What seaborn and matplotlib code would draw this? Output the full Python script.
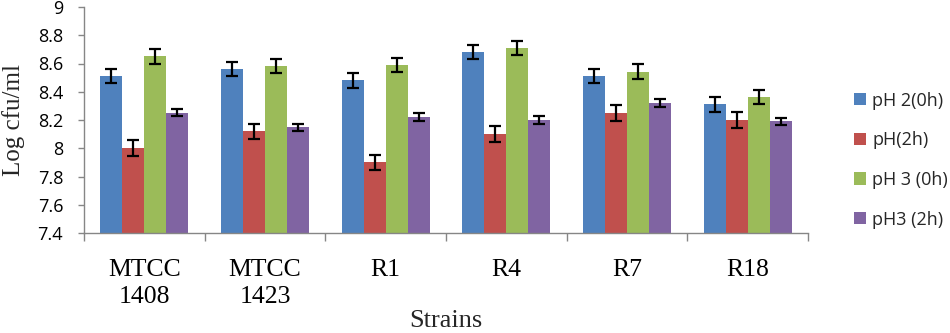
import matplotlib
matplotlib.use("Agg")
import matplotlib.pyplot as plt
import seaborn as sns
import pandas as pd
import numpy as np

strains = ["MTCC\n1408", "MTCC\n1423", "R1", "R4", "R7", "R18"]
series = ["pH 2(0h)", "pH(2h)", "pH 3 (0h)", "pH3 (2h)"]
ph2_0h = [8.51, 8.56, 8.48, 8.68, 8.51, 8.31]
ph2_2h = [8.00, 8.12, 7.90, 8.10, 8.25, 8.20]
ph3_0h = [8.65, 8.58, 8.59, 8.71, 8.54, 8.36]
ph3_2h = [8.25, 8.15, 8.22, 8.20, 8.32, 8.19]
err2_0h = [0.05, 0.05, 0.05, 0.05, 0.05, 0.05]
err2_2h = [0.055, 0.055, 0.055, 0.055, 0.055, 0.055]
err3_0h = [0.05, 0.05, 0.05, 0.05, 0.053, 0.05]
err3_2h = [0.025, 0.025, 0.027, 0.025, 0.027, 0.027]
ytick_labels = ["7.4", "7.6", "7.8", "8", "8.2", "8.4", "8.6", "8.8", "9"]
colors = ["#4F81BD", "#C0504D", "#9BBB59", "#8064A2"]

values = [ph2_0h, ph2_2h, ph3_0h, ph3_2h]
errors = [err2_0h, err2_2h, err3_0h, err3_2h]

rows = []
for s, vals in zip(series, values):
    for st, v in zip(strains, vals):
        rows.append({"Strain": st, "Series": s, "Value": v})
df = pd.DataFrame(rows)

sns.set_theme(style="white")
plt.rcParams["font.family"] = ["Liberation Serif", "DejaVu Serif"]

fig = plt.figure(figsize=(9.5, 3.33), dpi=100)
ax = fig.add_axes([84 / 950, 1 - 233 / 333, (808 - 84) / 950, (233 - 7) / 333])

sns.barplot(data=df, x="Strain", y="Value", hue="Series", order=strains,
            hue_order=series, palette=colors, saturation=1, width=0.73,
            errorbar=None, ax=ax, linewidth=0, legend=True)

for cont, errs in zip(ax.containers, errors):
    xs = [p.get_x() + p.get_width() / 2 for p in cont.patches]
    ys = [p.get_height() for p in cont.patches]
    ax.errorbar(xs, ys, yerr=errs, fmt="none", ecolor="black",
                elinewidth=1.6, capsize=4, capthick=1.6, zorder=5)

ax.set_ylim(7.4, 9.0)
ax.set_xlim(-0.5, len(strains) - 0.5)
ax.set_yticks([float(t) for t in ytick_labels])
ax.set_yticklabels(ytick_labels, family=["Open Sans", "DejaVu Sans"], fontsize=13)
ax.set_xticks(range(len(strains)))
ax.set_xticklabels(strains, fontsize=18.5, linespacing=1.25)
ax.set_xticks(np.arange(-0.5, len(strains), 1.0), minor=True)

spine_col = "#868686"
for side in ["top", "right"]:
    ax.spines[side].set_visible(False)
for side in ["left", "bottom"]:
    ax.spines[side].set_color(spine_col)
    ax.spines[side].set_linewidth(1.0)

ax.tick_params(axis="x", which="major", length=0, pad=19, colors="black")
ax.tick_params(axis="x", which="minor", length=6, width=1, color=spine_col,
               direction="out", bottom=True)
ax.tick_params(axis="y", which="major", length=4.5, width=1, color=spine_col,
               direction="out", pad=10.5, left=True, labelcolor="black")

ax.set_ylabel("Log cfu/ml", fontsize=18, labelpad=9)
ax.set_xlabel("Strains", fontsize=19, labelpad=1.5)
ax.grid(False)

leg = ax.legend(loc="center left", bbox_to_anchor=(854 / 950, 1 - 160 / 333),
                bbox_transform=fig.transFigure, frameon=False,
                prop={"family": ["Open Sans", "DejaVu Sans"], "size": 13},
                handlelength=0.67, handleheight=0.67, handletextpad=0.35,
                labelspacing=1.2, borderpad=0, borderaxespad=0)

fig.savefig("out.png", dpi=100, facecolor="white")
